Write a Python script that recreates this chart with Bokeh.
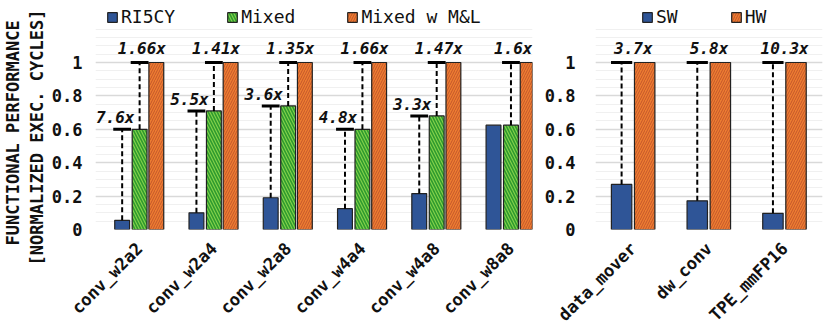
import math
from bokeh.plotting import figure
from bokeh.layouts import row
from bokeh.models import (ColumnDataSource, Range1d, FactorRange, FixedTicker, Legend, LegendItem,
                          LabelSet, Title)
from bokeh.transform import dodge
from bokeh.embed import file_html
from bokeh.resources import INLINE
from bokeh.core.properties import value

# ---------------- data ----------------
categories = ["conv_w2a2", "conv_w2a4", "conv_w2a8", "conv_w4a4", "conv_w4a8", "conv_w8a8"]
ri5cy = [0.055, 0.10, 0.19, 0.125, 0.215, 0.625]
mixed = [0.60, 0.71, 0.74, 0.60, 0.68, 0.625]
mixed_ml = [1.0, 1.0, 1.0, 1.0, 1.0, 1.0]
mixed_gain_labels = ["7.6x", "5.5x", "3.6x", "4.8x", "3.3x", ""]
ml_gain_labels = ["1.66x", "1.41x", "1.35x", "1.66x", "1.47x", "1.6x"]

hw_categories = ["data_mover", "dw_conv", "TPE_mmFP16"]
sw = [0.27, 0.172, 0.097]
hw = [1.0, 1.0, 1.0]
hw_gain_labels = ["3.7x", "5.8x", "10.3x"]

y_ticks = [0, 0.2, 0.4, 0.6, 0.8, 1.0]
y_tick_labels = ["0", "0.2", "0.4", "0.6", "0.8", "1"]
y_minor = [i * 0.05 for i in range(25)]
y_title_outer = "FUNCTIONAL PERFORMANCE"
y_title_inner = "[NORMALIZED EXEC. CYCLES]"

# ---------------- style ----------------
FONT = "DejaVu Sans Mono"
BLUE = "#2F5597"
GREEN = "#84D14A"
GREEN_H = "#2E9A2E"
ORANGE = "#ED7D31"
ORANGE_H = "#C4562A"
EDGE = "#222222"
PX_PER_UNIT = 167
TOP = 3
FRAME_H = 226
Y_END = FRAME_H / PX_PER_UNIT
GRID_END = 1.2
BOTTOM = 100
LEGEND_Y = 202


def style_y(ax, p, standoff):
    ax.ticker = FixedTicker(ticks=y_ticks, minor_ticks=y_minor)
    ax.major_label_overrides = {t: l for t, l in zip(y_ticks, y_tick_labels)}
    ax.axis_line_color = None
    ax.major_tick_line_color = None
    ax.minor_tick_line_color = None
    ax.major_tick_out = 0
    ax.minor_tick_out = 0
    ax.major_label_standoff = standoff
    ax.major_label_text_font = FONT
    ax.major_label_text_font_style = "bold"
    ax.major_label_text_font_size = "17px"
    ax.major_label_text_color = "#111111"
    p.ygrid.grid_line_color = "#D9D9D9"
    p.ygrid.grid_line_width = 1.5
    p.ygrid.minor_grid_line_color = "#F0F0F0"
    p.ygrid.bounds = (0, GRID_END)
    p.xgrid.grid_line_color = None
    p.outline_line_color = None


def style_x(ax):
    ax.axis_line_color = None
    ax.major_tick_line_color = None
    ax.minor_tick_line_color = None
    ax.major_tick_out = 0
    ax.minor_tick_out = 0
    ax.major_label_orientation = math.pi / 4
    ax.major_label_standoff = 16
    ax.major_label_text_font = FONT
    ax.major_label_text_font_style = "bold"
    ax.major_label_text_font_size = "17px"
    ax.major_label_text_color = "#111111"


def make_legend(items, loc, spacing):
    lg = Legend(items=items, orientation="horizontal", location=loc)
    lg.margin = 0
    lg.padding = 0
    lg.spacing = spacing
    lg.glyph_width = 12
    lg.glyph_height = 12
    lg.label_standoff = 3
    lg.label_text_font = FONT
    lg.label_text_font_size = "18px"
    lg.label_text_color = "#111111"
    lg.border_line_color = None
    lg.background_fill_alpha = 0
    return lg


def gain_labels(p, x, y, text, source, x_offset, y_offset):
    ls = LabelSet(x=x, y=y, text=text, source=source, x_offset=x_offset, y_offset=y_offset,
                  text_align="center", text_baseline="bottom", text_font=value(FONT),
                  text_font_style="bold italic", text_font_size="16px", text_color="#111111")
    p.add_layout(ls)


def side_title(text, standoff, offset):
    return Title(text=text, align="left", offset=offset, standoff=standoff,
                 text_font=FONT, text_font_size="17px", text_font_style="bold", text_color="#111111")


# ---------------- left chart ----------------
xs = list(range(len(categories)))
src = ColumnDataSource(dict(x=xs, ri5cy=ri5cy, mixed=mixed, ml=mixed_ml,
                            lo=mixed_gain_labels, hi=ml_gain_labels))
lo_idx = [i for i, l in enumerate(mixed_gain_labels) if l]
src_lo = ColumnDataSource(dict(x=[xs[i] for i in lo_idx], ri5cy=[ri5cy[i] for i in lo_idx],
                               mixed=[mixed[i] for i in lo_idx], lo=[mixed_gain_labels[i] for i in lo_idx]))

p1 = figure(frame_width=437, frame_height=FRAME_H, x_range=Range1d(-0.594, 5.29),
            y_range=Range1d(0, Y_END),
            output_backend="svg", toolbar_location=None,
            min_border_left=95, min_border_right=8, min_border_top=TOP, min_border_bottom=BOTTOM)
style_y(p1.yaxis[0], p1, 13)
p1.add_layout(side_title(y_title_inner, 3, -36), "left")
p1.add_layout(side_title(y_title_outer, 1, -16), "left")

OFF_R, OFF_M, OFF_L = -0.235, 0.0, 0.225
BW = 0.2
r1 = p1.vbar(x=dodge("x", OFF_R), top="ri5cy", width=BW, source=src,
             fill_color=BLUE, line_color=EDGE, line_width=1.2)
r2 = p1.vbar(x=dodge("x", OFF_M), top="mixed", width=BW, source=src,
             fill_color=GREEN, line_color=EDGE, line_width=1.2,
             hatch_pattern="left_diagonal_line", hatch_color=GREEN_H, hatch_weight=1.6, hatch_scale=6)
r3 = p1.vbar(x=dodge("x", OFF_L), top="ml", width=BW, source=src,
             fill_color=ORANGE, line_color=EDGE, line_width=1.2,
             hatch_pattern="right_diagonal_line", hatch_color=ORANGE_H, hatch_weight=1.0, hatch_scale=5)

CAP = 0.12
p1.segment(x0=dodge("x", OFF_R), y0="ri5cy", x1=dodge("x", OFF_R), y1="mixed", source=src_lo,
           line_color="black", line_width=2, line_dash="5 3")
p1.segment(x0=dodge("x", OFF_R - CAP), y0="mixed", x1=dodge("x", OFF_R + CAP), y1="mixed", source=src_lo,
           line_color="black", line_width=3)
gain_labels(p1, dodge("x", OFF_R), "mixed", "lo", src_lo, -7, 2)
p1.segment(x0=dodge("x", OFF_M), y0="mixed", x1=dodge("x", OFF_M), y1="ml", source=src,
           line_color="black", line_width=2, line_dash="5 3")
p1.segment(x0=dodge("x", OFF_M - CAP), y0="ml", x1=dodge("x", OFF_M + CAP), y1="ml", source=src,
           line_color="black", line_width=3)
gain_labels(p1, dodge("x", 0.03), "ml", "hi", src, 0, 5)

p1.xaxis[0].ticker = FixedTicker(ticks=xs)
p1.xaxis[0].major_label_overrides = {i: c for i, c in zip(xs, categories)}
style_x(p1.xaxis[0])

lg1 = make_legend([LegendItem(label="RI5CY", renderers=[r1]),
                   LegendItem(label="Mixed", renderers=[r2]),
                   LegendItem(label="Mixed w M&L", renderers=[r3])], (11, LEGEND_Y), 51)
p1.add_layout(lg1)

# ---------------- right chart ----------------
src2 = ColumnDataSource(dict(cat=hw_categories, sw=sw, hw=hw, lab=hw_gain_labels))
p2 = figure(frame_width=227, frame_height=FRAME_H, x_range=FactorRange(*hw_categories, range_padding=0),
            y_range=Range1d(0, Y_END),
            output_backend="svg", toolbar_location=None,
            min_border_left=55, min_border_right=8, min_border_top=TOP, min_border_bottom=BOTTOM)
style_y(p2.yaxis[0], p2, 20)
SOFF, HOFF, BW2, CAP2 = -0.155, 0.15, 0.27, 0.14
s1 = p2.vbar(x=dodge("cat", SOFF, range=p2.x_range), top="sw", width=BW2, source=src2,
             fill_color=BLUE, line_color=EDGE, line_width=1.2)
s2 = p2.vbar(x=dodge("cat", HOFF, range=p2.x_range), top="hw", width=BW2, source=src2,
             fill_color=ORANGE, line_color=EDGE, line_width=1.2,
             hatch_pattern="right_diagonal_line", hatch_color=ORANGE_H, hatch_weight=1.0, hatch_scale=5)
p2.segment(x0=dodge("cat", SOFF, range=p2.x_range), y0="sw", x1=dodge("cat", SOFF, range=p2.x_range), y1="hw",
           source=src2, line_color="black", line_width=2, line_dash="5 3")
p2.segment(x0=dodge("cat", SOFF - CAP2, range=p2.x_range), y0="hw",
           x1=dodge("cat", SOFF + CAP2, range=p2.x_range), y1="hw",
           source=src2, line_color="black", line_width=3)
gain_labels(p2, "cat", "hw", "lab", src2, 0, 5)
style_x(p2.xaxis[0])
lg2 = make_legend([LegendItem(label="SW", renderers=[s1]),
                   LegendItem(label="HW", renderers=[s2])], (46, LEGEND_Y), 52)
p2.add_layout(lg2)

layout = row(p1, p2)
open("out.html", "w").write(file_html(layout, INLINE))
